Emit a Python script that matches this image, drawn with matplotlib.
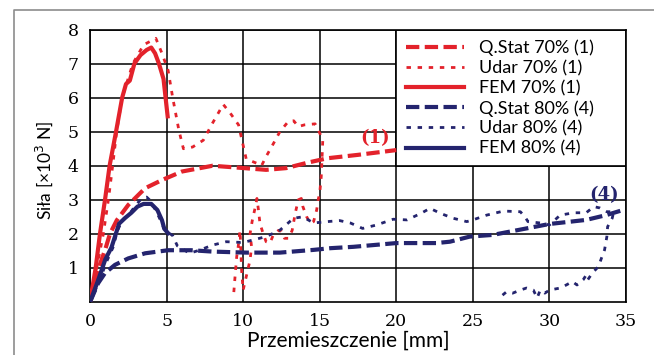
"""Siła vs przemieszczenie: Q.Stat / Udar / FEM dla 70% i 80%."""
import matplotlib
matplotlib.use("Agg")
import matplotlib.pyplot as plt
from matplotlib.lines import Line2D
from matplotlib.patches import Rectangle

RED = "#e3222b"
NAVY = "#24246e"

# --- dane ---
qstat70_x = [0, 0.45, 1.0, 1.3, 1.75, 2.5, 3.6, 4.7, 6.0, 8.0, 9.8, 11.5, 12.8, 14.2, 15.5, 17.5, 20.0]
qstat70_y = [0, 0.85, 1.55, 2.0, 2.4, 2.85, 3.34, 3.58, 3.83, 4.0, 3.94, 3.88, 3.93, 4.09, 4.22, 4.32, 4.46]

udar70_x = [0, 0.44, 0.87, 1.2, 1.48, 1.74, 2.1, 2.8, 3.5, 4.3, 4.7, 5.1, 5.4, 5.8, 6.1, 6.7, 7.4,
            8.0, 8.7, 9.15, 9.7, 10.0, 10.2, 10.9, 11.2, 11.5, 12.0, 12.4, 12.95, 13.3, 13.6, 14.0,
            14.7, 15.0, 15.2, 15.1, 15.0, 14.9, 14.8, 14.6, 14.4, 14.15, 13.9, 13.8, 13.6, 13.4,
            13.2, 12.95, 12.7, 12.5, 12.3, 11.97, 11.75, 11.5, 11.3, 11.1, 11.0, 10.9, 10.8, 10.6,
            10.45, 10.55, 10.45, 10.2, 10.0, 9.9, 9.8, 9.67, 9.58, 9.47, 9.36]
udar70_y = [0, 1.0, 2.0, 3.0, 4.0, 5.0, 6.0, 7.0, 7.55, 7.74, 7.3, 6.8, 6.0, 5.05, 4.5, 4.55, 4.75,
            5.25, 5.8, 5.55, 5.2, 4.6, 4.2, 4.07, 4.0, 4.27, 4.67, 5.0, 5.3, 5.32, 5.15, 5.2,
            5.23, 4.96, 4.75, 3.68, 3.2, 3.0, 2.7, 2.36, 2.3, 2.5, 2.8, 3.04, 3.0, 2.6,
            2.1, 1.87, 1.87, 2.07, 2.1, 1.97, 1.73, 1.77, 2.02, 2.3, 2.7, 3.04, 2.8, 2.4,
            2.0, 1.62, 1.23, 0.74, 0.35, 0.94, 2.1, 1.6, 1.33, 0.74, 0.11]

fem70_x = [0, 0.37, 0.65, 0.98, 1.28, 1.7, 2.1, 2.35, 2.6, 2.9, 3.3, 3.7, 4.0, 4.25, 4.5, 4.8, 5.07]
fem70_y = [0, 1.0, 2.0, 3.0, 4.0, 5.0, 6.0, 6.4, 6.5, 7.0, 7.25, 7.4, 7.47, 7.3, 7.0, 6.55, 5.45]

qstat80_x = [0, 0.53, 0.98, 1.63, 2.5, 3.6, 5.1, 6.6, 8.0, 10.2, 12.4, 14.6, 15.7, 17.2, 20.0,
             22.6, 23.5, 24.8, 26.3, 28.5, 30.0, 32.4, 33.7, 34.8]
qstat80_y = [0, 0.55, 0.85, 1.09, 1.28, 1.43, 1.52, 1.52, 1.48, 1.45, 1.45, 1.53, 1.58, 1.62, 1.73,
             1.73, 1.77, 1.92, 1.97, 2.16, 2.29, 2.41, 2.55, 2.7]

udar80_x = [0, 0.6, 1.1, 1.5, 1.8, 2.1, 2.6, 3.0, 3.4, 3.7, 4.0, 4.5, 4.9, 5.4, 5.7, 6.5, 7.2,
            8.0, 8.9, 9.8, 10.2, 11.5, 12.4, 13.3, 13.9, 14.6, 15.5, 16.3, 17.0, 17.8, 18.7,
            19.8, 20.7, 21.6, 22.2, 22.9, 23.7, 24.6, 25.0, 25.9, 27.0, 28.1, 28.4, 28.6, 29.4,
            30.0, 30.7, 31.6, 32.4, 32.9, 33.3, 33.75, 34.2, 34.1, 33.8, 33.75, 33.6, 33.4,
            33.2, 32.8, 32.5, 32.4, 32.2, 31.8, 31.5, 31.1, 30.7, 30.0, 29.7, 29.4, 29.2,
            28.95, 28.5, 28.1, 27.6, 27.2, 26.8]
udar80_y = [0, 0.6, 1.2, 1.6, 2.1, 2.4, 2.6, 2.85, 3.05, 3.08, 2.95, 2.5, 2.1, 1.95, 1.65, 1.43, 1.53,
            1.67, 1.77, 1.75, 1.77, 1.92, 2.11, 2.46, 2.5, 2.32, 2.36, 2.39, 2.32, 2.16, 2.26,
            2.43, 2.41, 2.6, 2.75, 2.6, 2.46, 2.36, 2.41, 2.55, 2.67, 2.65, 2.5, 2.36, 2.32,
            2.26, 2.55, 2.62, 2.62, 2.8, 2.76, 2.65, 2.65, 2.46, 2.21, 1.92, 1.53, 1.29,
            1.04, 0.85, 0.65, 0.79, 0.65, 0.5, 0.6, 0.5, 0.41, 0.35, 0.26, 0.35, 0.12,
            0.35, 0.41, 0.35, 0.26, 0.3, 0.15]

fem80_x = [0, 0.5, 1.0, 1.4, 1.65, 1.9, 2.3, 2.7, 3.1, 3.5, 4.0, 4.4, 4.7, 4.85, 5.1]
fem80_y = [0, 0.6, 1.25, 1.6, 1.95, 2.3, 2.47, 2.62, 2.8, 2.88, 2.88, 2.7, 2.4, 2.15, 2.02]

x_ticks = [0, 5, 10, 15, 20, 25, 30, 35]
y_ticks = [1, 2, 3, 4, 5, 6, 7, 8]

SANS = ["Lato", "DejaVu Sans"]
SERIF = ["DejaVu Serif"]

fig = plt.figure(figsize=(6.54, 3.55), dpi=100)
ax = fig.add_axes([90 / 654, 1 - 302 / 355, 536 / 654, 272.5 / 355])

# zewnętrzna ramka
fig.add_artist(Line2D([14 / 654, 14 / 654, 1.0], [0.0, 1 - 10 / 355, 1 - 10 / 355],
                      transform=fig.transFigure, color="#8c8c8c", linewidth=1.2))

dash = (3.2, 1.3)
dot = (1.6, 2.4)
ax.plot(qstat70_x, qstat70_y, color=RED, linewidth=3, dashes=dash, label="Q.Stat 70% (1)", zorder=3)
ax.plot(udar70_x, udar70_y, color=RED, linewidth=2, dashes=dot, label="Udar 70% (1)", zorder=3)
ax.plot(fem70_x, fem70_y, color=RED, linewidth=3, label="FEM 70% (1)", zorder=4)
ax.plot(qstat80_x, qstat80_y, color=NAVY, linewidth=3, dashes=dash, label="Q.Stat 80% (4)", zorder=3)
ax.plot(udar80_x, udar80_y, color=NAVY, linewidth=2, dashes=dot, label="Udar 80% (4)", zorder=3)
ax.plot(fem80_x, fem80_y, color=NAVY, linewidth=3, label="FEM 80% (4)", zorder=4)

ax.text(18.6, 4.8, "(1)", color=RED, fontsize=13, fontweight="bold",
        family=SERIF, ha="center", va="center", zorder=5)
ax.text(33.6, 3.15, "(4)", color=NAVY, fontsize=13, fontweight="bold",
        family=SERIF, ha="center", va="center", zorder=5)

ax.set_xlim(0, 35)
ax.set_ylim(0, 8)
ax.set_xticks(x_ticks)
ax.set_yticks(y_ticks)
ax.tick_params(length=0, labelsize=12.5, pad=8)
for lab in ax.get_xticklabels() + ax.get_yticklabels():
    lab.set_family(SERIF)
ax.grid(True, color="black", linewidth=1.1)
ax.set_axisbelow(True)
for s in ax.spines.values():
    s.set_linewidth(1.2)

ax.set_xlabel("Przemieszczenie [mm]", family=SANS, fontsize=15)
ax.xaxis.set_label_coords(0.481, -0.105)
ax.set_ylabel("Siła [×10$^3$ N]", family=SANS, fontsize=12.5)
ax.yaxis.set_label_coords(-0.066, 0.484)

# tło legendy zasłania siatkę
ax.add_patch(Rectangle((20, 4), 15, 4, facecolor="white", edgecolor="black",
                       linewidth=1.2, zorder=2.5))
leg = ax.legend(loc="upper left", bbox_to_anchor=(20 / 35, 1.0), frameon=False,
                prop={"family": SANS, "size": 13}, handlelength=3.2,
                labelspacing=0.22, borderaxespad=0.15, handletextpad=0.85)
leg.set_zorder(6)

fig.savefig("out.png", dpi=100)
